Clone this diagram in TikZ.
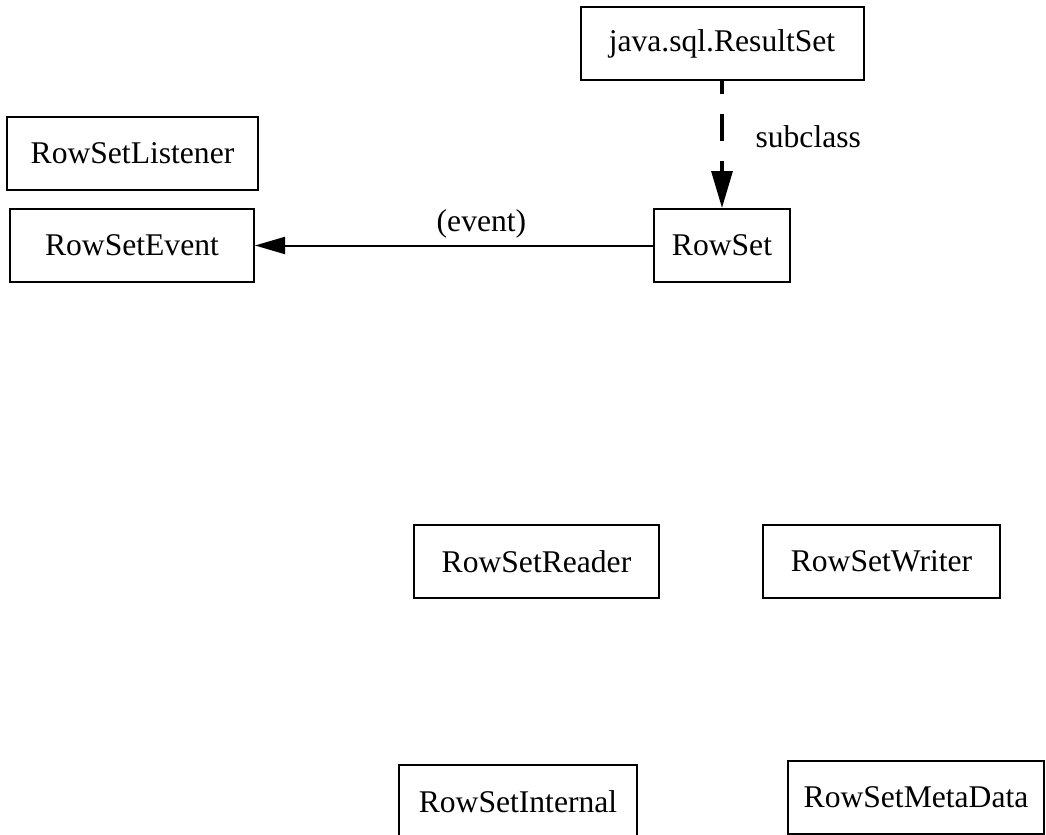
\documentclass[tikz,border=0pt]{standalone}
\usepackage{fontspec}
\setmainfont{Liberation Serif}
\usetikzlibrary{arrows.meta}
\begin{document}
\begin{tikzpicture}[x=0.5pt,y=-0.5pt,
	cls/.style={draw,line width=1pt,minimum height=36.5pt,inner sep=0pt,font=\fontsize{15.8}{19}\selectfont},
	lbl/.style={inner sep=0pt,font=\fontsize{15.8}{19}\selectfont}]
		\useasboundingbox (0,0) rectangle (1046,835);
		\node[cls,minimum width=141.5pt] (resultset) at (722,43.5) {java.sql.ResultSet};
		\node[cls,minimum width=125.5pt] (listener) at (132.5,153.5) {RowSetListener};
		\node[cls,minimum width=122pt] (event) at (132,245.5) {RowSetEvent};
		\node[cls,minimum width=68pt] (rowset) at (722,245.5) {RowSet};
		\node[cls,minimum width=122.5pt] (reader) at (536.5,561.5) {RowSetReader};
		\node[cls,minimum width=118.5pt] (writer) at (881.5,561.5) {RowSetWriter};
		\node[cls,minimum width=119pt] (internal) at (518,801.5) {RowSetInternal};
		\node[cls,minimum width=128pt] (metadata) at (916,797) {RowSetMetaData};
		\draw[line width=1.6pt,dash pattern=on 13.5pt off 10pt,dash phase=7pt,-{Triangle[length=18.5pt,width=10.5pt]}] (resultset) -- node[lbl,anchor=base west,xshift=16pt,yshift=-1.75pt]{subclass} (rowset);
		\draw[line width=1pt,-{Triangle[length=15pt,width=8.5pt]}] (rowset) -- node[lbl,pos=.431,anchor=base,yshift=7pt]{(event)} (event);
\end{tikzpicture}
\end{document}
